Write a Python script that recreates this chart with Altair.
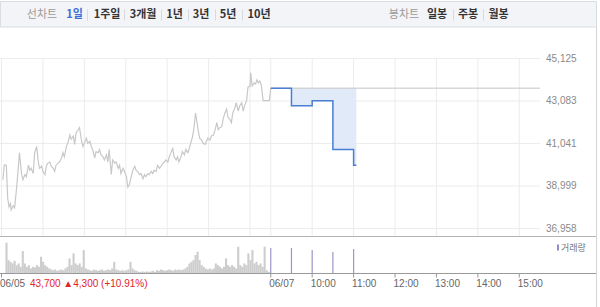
import altair as alt
import pandas as pd

KR = "Noto Sans CJK KR"
NUM = "Liberation Sans"

# ---------------- data ----------------
# 06/05 session: minutes after 09:00, price (gray line)
day1_minutes = [
    2, 4, 7, 9, 11, 13, 14, 17, 19, 22,
    24, 26, 29, 31, 34, 36, 39, 41, 43, 46,
    48, 51, 53, 55, 58, 60, 63, 65, 67, 70,
    72, 75, 77, 79, 82, 84, 87, 89, 91, 94,
    96, 99, 101, 104, 106, 108, 111, 113, 116, 118,
    120, 123, 125, 128, 130, 132, 135, 137, 140, 142,
    144, 147, 149, 152, 154, 156, 159, 161, 164, 166,
    169, 171, 173, 176, 178, 181, 183, 185, 188, 190,
    193, 195, 197, 200, 202, 205, 207, 209, 212, 214,
    217, 219, 221, 224, 226, 229, 231, 234, 236, 238,
    241, 243, 246, 248, 250, 253, 255, 257, 260, 262,
    265, 267, 270, 272, 274, 277, 279, 281, 283, 285,
    287, 290, 292, 295, 297, 299, 302, 304, 307, 309,
    312, 314, 316, 319, 321, 323, 326, 328, 331, 333,
    335, 338, 340, 343, 345, 348, 350, 352, 355, 357,
    360, 361, 363, 366, 368, 370, 372, 374, 376, 379,
    388, 390,
]
day1_prices = [
    39300, 40000, 40000, 38400, 38000, 38150, 37850, 38050, 37950, 38950,
    39750, 40600, 39600, 39300, 39550, 39450, 40000, 39750, 39850, 39600,
    40600, 40900, 40250, 39850, 39950, 39700, 39550, 39950, 40100, 40150,
    39950, 39850, 39700, 40000, 40100, 40150, 40350, 40600, 40400, 40900,
    41050, 41450, 41250, 41400, 41000, 41550, 41700, 41800, 41150, 40900,
    41050, 41300, 41050, 41150, 40900, 40750, 40350, 40650, 40600, 40750,
    40500, 40400, 40250, 40500, 40150, 40750, 39550, 40250, 40100, 40150,
    39850, 40000, 39600, 39850, 39700, 39450, 38950, 39050, 39450, 39750,
    39950, 39750, 39700, 39550, 39600, 39350, 39550, 39450, 39600, 39550,
    39700, 39600, 39750, 39700, 40000, 39850, 39950, 40100, 40150, 40250,
    40150, 40400, 40650, 40800, 40400, 40250, 40400, 40150, 40400, 40650,
    40500, 40750, 40600, 40800, 41050, 41400, 41850, 42500, 42100, 41650,
    41300, 41200, 41050, 41000, 41150, 41300, 41200, 41400, 41450, 41650,
    42050, 41700, 41800, 41850, 42200, 42450, 42700, 42300, 42200, 42050,
    42500, 42750, 43000, 42600, 42850, 43000, 42600, 42850, 43100, 43750,
    43800, 44450, 43800, 43950, 43900, 44100, 43950, 44050, 43900, 43100,
    43100, 43700,
]

# 06/07 session (blue step line): minutes on the continuous axis
day2_minutes = [390, 420, 450, 480, 510, 514]
day2_prices = [43700, 42850, 43100, 40750, 40000, 40000]
ref_price = 43700

# volumes (relative units)
day1_vol_minutes = list(range(0, 390, 3))
day1_volumes = [
    92, 40, 35, 30, 38, 25, 30, 20, 67, 30,
    20, 25, 15, 20, 18, 25, 20, 50, 35, 25,
    20, 15, 12, 10, 12, 8, 10, 12, 10, 15,
    20, 45, 25, 60, 30, 25, 30, 20, 70, 15,
    12, 10, 8, 12, 10, 8, 10, 12, 8, 10,
    12, 10, 15, 35, 12, 10, 8, 10, 8, 10,
    12, 35, 15, 10, 8, 5, 5, 6, 5, 6,
    5, 6, 8, 5, 10, 8, 12, 10, 8, 10,
    12, 10, 8, 12, 10, 12, 10, 12, 15, 20,
    30, 35, 40, 55, 65, 40, 25, 20, 15, 12,
    15, 12, 15, 30, 25, 20, 15, 20, 45, 25,
    20, 25, 20, 15, 80, 25, 20, 30, 25, 60,
    40, 70, 30, 35, 25, 30, 20, 80, 10, 5,
]
day2_vol_minutes = [390, 420, 450, 480, 510]
day2_volumes = [76, 76, 70, 64, 73]

price_ticks = [36958, 38999, 41041, 43083, 45125]
grid_minutes = [0, 60, 120, 180, 240, 300, 360, 390, 450, 510, 570, 630, 690, 750]
xtick_minutes = [0, 390, 450, 510, 570, 630, 690, 750]
xtick_labels = ["06/05", "06/07", "10:00", "11:00", "12:00", "13:00", "14:00", "15:00"]
summary_text = "43,700 ▲4,300 (+10.91%)"

left_tabs = ["선차트", "1일", "1주일", "3개월", "1년", "3년", "5년", "10년"]
right_tabs = ["봉차트", "일봉", "주봉", "월봉"]

# ---------------- frames ----------------
df1 = pd.DataFrame({"m": day1_minutes, "price": day1_prices})
df2 = pd.DataFrame({"m": day2_minutes, "price": day2_prices})
df2["base"] = ref_price
dref = pd.DataFrame({"m": [390], "m2": [780], "p": [ref_price]})
dv1 = pd.DataFrame({"m": day1_vol_minutes, "vol": day1_volumes})
dv2 = pd.DataFrame({"m": day2_vol_minutes, "vol": day2_volumes})
dpt = pd.DataFrame({"p": price_ticks})
dpt["label"] = [f"{v:,}" for v in price_ticks]
dgx = pd.DataFrame({"m": grid_minutes})
dxt = pd.DataFrame({"m": xtick_minutes, "label": xtick_labels})
one = pd.DataFrame({"k": [0]})

xs = alt.Scale(domain=[0, 780], range=[1.5, 540])
yp = alt.Scale(domain=[36958, 45125], range=[228.5, 58.5])
yv = alt.Scale(domain=[0, 100], range=[273.5, 240])

X = lambda f="m": alt.X(f"{f}:Q", scale=xs, axis=None)

layers = []

# grid
layers.append(alt.Chart(dgx).mark_rule(color="#ececec", strokeWidth=1).encode(
    x=X(), y=alt.value(58.5), y2=alt.value(236.5)))
layers.append(alt.Chart(dpt).mark_rule(color="#ececec", strokeWidth=1).encode(
    y=alt.Y("p:Q", scale=yp, axis=None), x=alt.value(0), x2=alt.value(540)))

# area + reference
layers.append(alt.Chart(df2).mark_area(interpolate="step-after", color="#e1eaf8", opacity=1).encode(
    x=X(), y=alt.Y("price:Q", scale=yp, axis=None), y2="base:Q"))
layers.append(alt.Chart(dref).mark_rule(color="#c4c4c4", strokeWidth=1).encode(
    x=X(), x2="m2:Q", y=alt.Y("p:Q", scale=yp, axis=None)))

# price lines
layers.append(alt.Chart(df1).mark_line(color="#c8c8c8", strokeWidth=1.2).encode(
    x=X(), y=alt.Y("price:Q", scale=yp, axis=None)))
layers.append(alt.Chart(df2).mark_line(color="#4a7fd6", strokeWidth=1.5, interpolate="step-after").encode(
    x=X(), y=alt.Y("price:Q", scale=yp, axis=None)))

# price labels
layers.append(alt.Chart(dpt).mark_text(align="left", baseline="middle", font=NUM, fontSize=10, color="#8a8a8a").encode(
    y=alt.Y("p:Q", scale=yp, axis=None), x=alt.value(546), text="label:N"))

# volumes
layers.append(alt.Chart(dv1).mark_bar(width=2.1, color="#cdcdcd").encode(
    x=X(), y=alt.Y("vol:Q", scale=yv, axis=None)))
layers.append(alt.Chart(dv2).mark_rule(color="#9b97c9", strokeWidth=1.2).encode(
    x=X(), y=alt.Y("vol:Q", scale=yv, axis=None), y2=alt.datum(0)))

# panel separators
for yy, col in [(236.5, "#b4b4b4"), (273.5, "#9a9a9a")]:
    layers.append(alt.Chart(one).mark_rule(color=col, strokeWidth=1).encode(
        x=alt.value(0), x2=alt.value(596), y=alt.value(yy)))

# x ticks and labels
layers.append(alt.Chart(dxt).mark_rule(color="#999999").encode(
    x=X(), y=alt.value(273.5), y2=alt.value(277.5)))
layers.append(alt.Chart(dxt).mark_text(align="left", baseline="middle", dx=-1.5, font=NUM, fontSize=10, color="#666666").encode(
    x=X(), y=alt.value(284), text="label:N"))
layers.append(alt.Chart(one).mark_text(text=summary_text, align="left", baseline="middle", font=NUM, fontSize=10, color="#e2242b").encode(
    x=alt.value(30), y=alt.value(284)))

# volume legend
layers.append(alt.Chart(one).mark_rule(color="#8f8bc4", strokeWidth=2).encode(
    x=alt.value(558), y=alt.value(244.5), y2=alt.value(250.5)))
layers.append(alt.Chart(one).mark_text(text="거래량", align="left", baseline="middle", font=KR, fontSize=9, color="#777777").encode(
    x=alt.value(561), y=alt.value(247.5)))

# right frame
layers.append(alt.Chart(one).mark_rule(color="#d4d4d4").encode(
    x=alt.value(596.5), y=alt.value(27), y2=alt.value(307)))

# tab bar
layers.append(alt.Chart(one).mark_rect(fill="#f3f4f7", stroke="#d9dce1", strokeWidth=1).encode(
    x=alt.value(0.5), x2=alt.value(596.5), y=alt.value(1.5), y2=alt.value(27)))

left_centers = [42, 74.5, 107, 143, 174.5, 201, 228, 259]
for i, (t, cx) in enumerate(zip(left_tabs, left_centers)):
    if i == 0:
        col, w = "#9a9a9a", "normal"
    elif i == 1:
        col, w = "#3d6fd6", "bold"
    else:
        col, w = "#333333", "bold"
    layers.append(alt.Chart(one).mark_text(text=t, align="center", baseline="middle", font=KR, fontSize=11, fontWeight=w, color=col).encode(
        x=alt.value(cx), y=alt.value(14.5)))
right_centers = [404, 437, 468, 498.5]
for i, (t, cx) in enumerate(zip(right_tabs, right_centers)):
    col, w = ("#9a9a9a", "normal") if i == 0 else ("#333333", "bold")
    layers.append(alt.Chart(one).mark_text(text=t, align="center", baseline="middle", font=KR, fontSize=11, fontWeight=w, color=col).encode(
        x=alt.value(cx), y=alt.value(14.5)))
for sx in [87.5, 124.5, 161.5, 188.5, 215.5, 242.5, 453.5, 483.5]:
    layers.append(alt.Chart(one).mark_rule(color="#d6d9de").encode(
        x=alt.value(sx), y=alt.value(9.5), y2=alt.value(20.5)))

chart = alt.layer(*layers).resolve_scale(x="independent", y="independent").properties(
    width=600, height=307, padding=0, autosize=alt.AutoSizeParams(type="none"),
    background="white",
).configure_view(stroke=None)

chart.save("out.html", embed_options={"renderer": "svg", "actions": False})
